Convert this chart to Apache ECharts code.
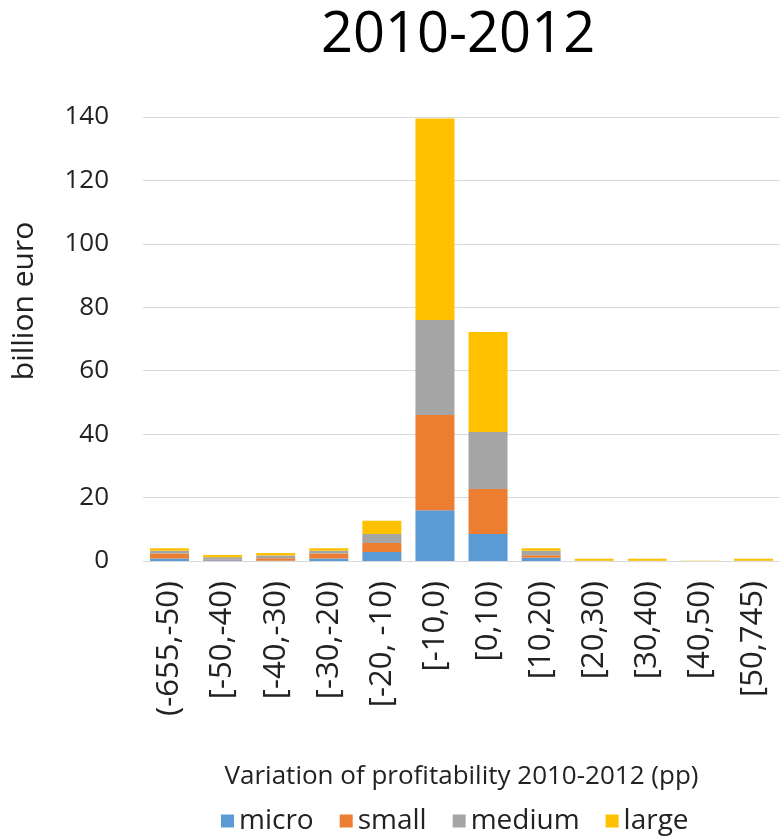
<!DOCTYPE html>
<html>
<head>
<meta charset="utf-8">
<script src="https://cdn.jsdelivr.net/npm/echarts@6/dist/echarts.min.js"></script>
<style>
  html, body { margin: 0; padding: 0; background: #fff; }
  #chart { width: 780px; height: 837px; }
</style>
</head>
<body>
<div id="chart"></div>
<script>
// profitability change bins
var categories = ['(-655,-50)', '[-50,-40)', '[-40,-30)', '[-30,-20)', '[-20, -10)', '[-10,0)',
  '[0,10)', '[10,20)', '[20,30)', '[30,40)', '[40,50)', '[50,745)']
var micro  = [0.8, 0.2, 0.1, 0.8, 2.8, 16, 8.5, 1.0, 0, 0, 0, 0]
var small  = [1.6, 0.2, 0.8, 1.6, 2.9, 30, 14.2, 0.8, 0, 0, 0, 0]
var medium = [0.8, 0.8, 0.8, 0.8, 2.8, 30, 18, 1.4, 0.1, 0.1, 0, 0.1]
var large  = [0.8, 0.7, 0.8, 0.8, 4.2, 63.5, 31.5, 0.8, 0.6, 0.6, 0.1, 0.6]
var yTicks = [0, 20, 40, 60, 80, 100, 120, 140]

var font = 'Open Sans'
var chart = echarts.init(document.getElementById('chart'))

function bar(name, data, color) {
  return {
    name: name,
    type: 'bar',
    stack: 'total',
    barWidth: 39,
    data: data,
    itemStyle: { color: color }
  }
}

chart.setOption({
  animation: false,
  textStyle: { fontFamily: font },
  title: {
    text: '2010-2012',
    left: 316,
    top: 3,
    textStyle: { fontSize: 56, fontWeight: 'normal', color: '#000', fontFamily: font }
  },
  legend: {
    data: ['micro', 'small', 'medium', 'large'],
    left: 216,
    top: 802,
    itemWidth: 13,
    itemHeight: 13,
    itemGap: 26,
    icon: 'rect',
    textStyle: { fontSize: 28, color: '#222', fontFamily: font }
  },
  grid: { left: 143, right: 0, top: 117, bottom: 276 },
  xAxis: {
    type: 'category',
    data: categories,
    name: 'Variation of profitability 2010-2012 (pp)',
    nameLocation: 'middle',
    nameGap: 203,
    nameTextStyle: { fontSize: 26, color: '#222' },
    axisLine: { lineStyle: { color: '#d9d9d9', width: 1 } },
    axisTick: { show: false },
    axisLabel: { rotate: 90, margin: 20, fontSize: 31, color: '#222', interval: 0 }
  },
  yAxis: {
    type: 'value',
    min: 0,
    max: yTicks[yTicks.length - 1],
    interval: 20,
    name: 'billion euro',
    nameLocation: 'middle',
    nameGap: 104,
    nameTextStyle: { fontSize: 30, color: '#222', padding: [0, 0, 0, 76] },
    axisLine: { show: false },
    axisTick: { show: false },
    axisLabel: { margin: 34, fontSize: 26, color: '#222' },
    splitLine: { lineStyle: { color: '#d9d9d9', width: 1 } }
  },
  series: [
    bar('micro', micro, '#5b9bd5'),
    bar('small', small, '#ed7d31'),
    bar('medium', medium, '#a5a5a5'),
    bar('large', large, '#ffc000')
  ]
})
</script>
</body>
</html>
